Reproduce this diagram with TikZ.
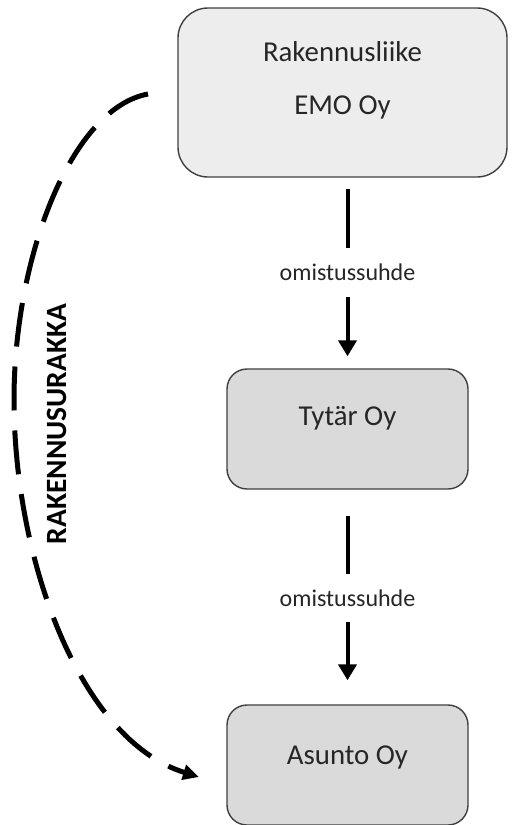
\documentclass[tikz,border=0pt]{standalone}
\usepackage{fontspec}
\setmainfont{Carlito}
\usepackage{xcolor}
\usetikzlibrary{arrows.meta}
\usetikzlibrary{positioning}

\definecolor{emofill}{HTML}{EDEDED}
\definecolor{boxfill}{HTML}{DADADA}
\definecolor{boxline}{HTML}{3F3F3F}

\begin{document}
\begin{tikzpicture}[x=0.5pt, y=-0.5pt,
    company/.style={draw=boxline, line width=0.7pt, fill=boxfill, rounded corners=10pt,
      minimum width=120.5pt, minimum height=60pt, inner sep=0pt},
    boxtext/.style={font=\fontsize{14.4}{26.5}\selectfont, text=black!85, align=center, inner sep=0pt},
    owner/.style={line width=2pt, -{Triangle[length=8pt,width=9pt]}},
    ownlabel/.style={midway, fill=white, inner xsep=2pt, inner ysep=7.8pt,
      font=\fontsize{12}{14}\selectfont, text=black!85},
    contract/.style={line width=2.5pt, dash pattern=on 22pt off 10pt,
      -{Triangle[length=8pt,width=7.5pt]}}]
  \useasboundingbox (0,0) rectangle (515,825);
  % yritykset
  \node[company, fill=emofill, rounded corners=15pt, minimum width=164.5pt, minimum height=84.5pt]
    (emo) at (342.5,92.5) {};
  \node[company] (tytar) at (347.5,429) {};
  \node[company] (asunto) at (347.5,765) {};
  \node[boxtext] (emotext) at (342.5,80) {Rakennusliike\\EMO Oy};
  \node[boxtext] (tytartext) at (347.5,418) {Tytär Oy};
  \node[boxtext] (asuntotext) at (347.5,757) {Asunto Oy};
  % omistus
  \draw[owner] ([yshift=-5.5pt]emo.south -| tytar.north) -- ([yshift=6pt]tytar.north)
    node[ownlabel] (own1) {omistussuhde};
  \draw[owner] ([yshift=-13pt]tytar.south) -- ([yshift=12pt]asunto.north)
    node[ownlabel] (own2) {omistussuhde};
  % urakka
  \coordinate (dashstart) at (148,94);
  \coordinate (dashleft) at (14,400);
  \coordinate (dashend) at (199,777);
  \draw[contract] (dashstart) .. controls (72,108) and (14,255) .. (dashleft)
    .. controls (14,560) and (80,740) .. (dashend);
  \node[font=\fontsize{14.7}{16}\selectfont\bfseries, rotate=90, inner sep=0pt] (urakka) at (57,424) {RAKENNUSURAKKA};
\end{tikzpicture}
\end{document}
